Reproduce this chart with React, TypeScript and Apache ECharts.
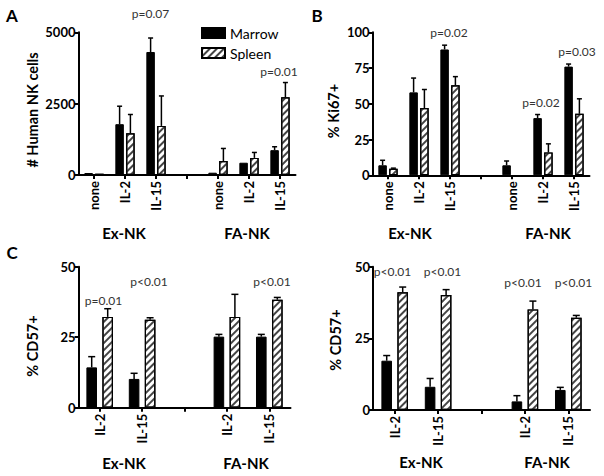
import React, { useEffect, useRef } from 'react';
import * as echarts from 'echarts';

// ---------- data ----------
const catsAB = ['none', 'IL-2', 'IL-15', '', 'none', 'IL-2', 'IL-15'];
const catsCD = ['IL-2', 'IL-15', '', 'IL-2', 'IL-15'];

// Panel A: # Human NK cells
const aMarrow = [70, 1780, 4310, null, 80, 430, 870];
const aMarrowErr = [0, 630, 490, null, 0, 0, 120];
const aSpleen = [45, 1460, 1720, null, 490, 600, 2720];
const aSpleenErr = [0, 660, 1050, null, 440, 190, 520];

// Panel B: % Ki67+
const bMarrow = [7, 58, 88, null, 7, 40, 76];
const bMarrowErr = [3.5, 10, 3, null, 3, 2.5, 1.8];
const bSpleen = [4.5, 47, 63, null, null, 16, 43];
const bSpleenErr = [0.5, 13, 6, null, 0, 6, 10.5];

// Panel C: % CD57+
const cMarrow = [14.3, 10.2, null, 25.2, 25.2];
const cMarrowErr = [3.8, 2, null, 0.8, 0.8];
const cSpleen = [32.2, 31.2, null, 32.2, 38.3];
const cSpleenErr = [2.9, 0.7, null, 8, 0.8];

// Panel D: % CD57+
const dMarrow = [17.2, 8.1, null, 3, 7];
const dMarrowErr = [1.8, 2.9, null, 2, 0.9];
const dSpleen = [41.1, 40.1, null, 35.1, 32.2];
const dSpleenErr = [1.8, 1.9, null, 2.9, 0.8];

const pA = ['p=0.07', 'p=0.01'];
const pB = ['p=0.02', 'p=0.02', 'p=0.03'];
const pC = ['p=0.01', 'p<0.01', 'p<0.01'];
const pD = ['p<0.01', 'p<0.01', 'p<0.01', 'p<0.01'];

const FONT = 'Lato, "Liberation Sans", sans-serif';

const hatch = {
  symbol: 'rect',
  symbolSize: 1,
  dashArrayX: [1, 0],
  dashArrayY: [1.6, 2.2],
  rotation: -Math.PI / 4,
  color: '#444',
};

function errSeries(means: any[], errs: any[], xi: number, offset: number, cap: number) {
  const data = means
    .map((m, i) => (m == null || !errs[i] ? null : [i, m, errs[i]]))
    .filter((d) => d !== null);
  return {
    type: 'custom',
    xAxisIndex: xi,
    yAxisIndex: xi,
    z: 5,
    silent: true,
    encode: { x: 0, y: 1 },
    data,
    renderItem: (_p: any, api: any) => {
      const i = api.value(0);
      const m = api.value(1);
      const e = api.value(2);
      const b = api.coord([i, m]);
      const t = api.coord([i, m + e]);
      const cx = b[0] + offset;
      return {
        type: 'group',
        children: [
          { type: 'line', shape: { x1: cx, y1: b[1], x2: cx, y2: t[1] }, style: { stroke: '#000', lineWidth: 1.5 } },
          { type: 'line', shape: { x1: cx - cap, y1: t[1], x2: cx + cap, y2: t[1] }, style: { stroke: '#000', lineWidth: 1.5 } },
        ],
      };
    },
  };
}

function barPair(marrow: any[], spleen: any[], xi: number, bw: number, gap: string) {
  return [
    {
      type: 'bar',
      name: 'Marrow',
      xAxisIndex: xi,
      yAxisIndex: xi,
      data: marrow,
      barWidth: bw,
      barGap: gap,
      itemStyle: { color: '#000', borderColor: '#000', borderWidth: 1 },
    },
    {
      type: 'bar',
      name: 'Spleen',
      xAxisIndex: xi,
      yAxisIndex: xi,
      data: spleen,
      barWidth: bw,
      barGap: gap,
      itemStyle: { color: '#fff', borderColor: '#000', borderWidth: 1.2, decal: hatch },
    },
  ];
}

function xAxis(gi: number, cats: string[]) {
  return {
    type: 'category',
    gridIndex: gi,
    data: cats,
    axisLine: { show: true, lineStyle: { color: '#000', width: 2 } },
    axisTick: { show: true, alignWithLabel: true, length: 4, lineStyle: { color: '#000', width: 2 } },
    axisLabel: { rotate: 90, interval: 0, margin: 6, color: '#000', fontWeight: 'bold', fontSize: 13, fontFamily: FONT },
    splitLine: { show: false },
  };
}

function yAxis(gi: number, max: number, interval: number) {
  return {
    type: 'value',
    gridIndex: gi,
    min: 0,
    max,
    interval,
    axisLine: { show: true, lineStyle: { color: '#000', width: 2 } },
    axisTick: { show: true, length: 4, lineStyle: { color: '#000', width: 2 } },
    axisLabel: {
      margin: 3,
      color: '#000',
      fontWeight: 'bold',
      fontSize: 13,
      fontFamily: FONT,
      formatter: (v: number) => String(v),
    },
    splitLine: { show: false },
  };
}

function txt(text: string, x: number, y: number, size: number, bold: boolean, rot = 0, color = '#000') {
  return {
    type: 'text',
    x,
    y,
    rotation: rot,
    style: {
      text,
      fill: color,
      font: `${bold ? 'bold ' : ''}${size}px ${FONT}`,
      textAlign: 'center',
      textVerticalAlign: 'middle',
    },
  };
}

export default function App() {
  const ref = useRef<HTMLDivElement>(null);
  useEffect(() => {
    if (!ref.current) return;
    const chart = echarts.init(ref.current, null, { renderer: 'svg' });
    const offAB = 5.4;
    const offCD = 8;
    const P = '#333';
    chart.setOption({
      animation: false,
      backgroundColor: '#fff',
      grid: [
        { left: 78.5, top: 32.3, width: 217, height: 142.7 },
        { left: 372.5, top: 32.3, width: 217, height: 143 },
        { left: 78.5, top: 266.7, width: 212, height: 141 },
        { left: 373, top: 266.7, width: 217, height: 143.3 },
      ],
      xAxis: [xAxis(0, catsAB), xAxis(1, catsAB), xAxis(2, catsCD), xAxis(3, catsCD)],
      yAxis: [yAxis(0, 5000, 2500), yAxis(1, 100, 25), yAxis(2, 50, 25), yAxis(3, 50, 25)],
      legend: {
        data: ['Marrow', 'Spleen'],
        orient: 'vertical',
        left: 196,
        top: 21,
        itemWidth: 23,
        itemHeight: 10,
        itemGap: 6,
        icon: 'rect',
        textStyle: { fontSize: 14, fontFamily: FONT, color: '#000' },
      },
      series: [
        ...barPair(aMarrow, aSpleen, 0, 8.5, '27%'),
        errSeries(aMarrow, aMarrowErr, 0, -offAB, 2.5),
        errSeries(aSpleen, aSpleenErr, 0, offAB, 2.5),
        ...barPair(bMarrow, bSpleen, 1, 8.5, '27%'),
        errSeries(bMarrow, bMarrowErr, 1, -offAB, 2.5),
        errSeries(bSpleen, bSpleenErr, 1, offAB, 2.5),
        ...barPair(cMarrow, cSpleen, 2, 10.6, '51%'),
        errSeries(cMarrow, cMarrowErr, 2, -offCD, 3.5),
        errSeries(cSpleen, cSpleenErr, 2, offCD, 3.5),
        ...barPair(dMarrow, dSpleen, 3, 10.6, '51%'),
        errSeries(dMarrow, dMarrowErr, 3, -offCD, 3.5),
        errSeries(dSpleen, dSpleenErr, 3, offCD, 3.5),
      ],
      graphic: [
        txt('A', 12, 15, 17, true),
        txt('B', 317, 15, 17, true),
        txt('C', 12, 252, 17, true),
        txt('# Human NK cells', 32, 110, 14.5, true, Math.PI / 2),
        txt('% Ki67+', 333, 111, 14.5, true, Math.PI / 2),
        txt('% CD57+', 32, 346, 14.5, true, Math.PI / 2),
        txt('% CD57+', 335, 340, 14.5, true, Math.PI / 2),
        txt('Ex-NK', 124, 233, 15, true),
        txt('FA-NK', 247, 233, 15, true),
        txt('Ex-NK', 410, 233, 15, true),
        txt('FA-NK', 548, 233, 15, true),
        txt('Ex-NK', 124, 463, 15, true),
        txt('FA-NK', 246, 463, 15, true),
        txt('Ex-NK', 421, 462, 15, true),
        txt('FA-NK', 547, 462, 15, true),
        txt(pA[0], 150.5, 13, 12, false, 0, P),
        txt(pA[1], 279, 71, 12, false, 0, P),
        txt(pB[0], 449, 32, 12, false, 0, P),
        txt(pB[1], 541, 102, 12, false, 0, P),
        txt(pB[2], 577, 51, 12, false, 0, P),
        txt(pC[0], 103.5, 300, 12, false, 0, P),
        txt(pC[1], 149, 281, 12, false, 0, P),
        txt(pC[2], 272, 281, 12, false, 0, P),
        txt(pD[0], 392.5, 271, 12, false, 0, P),
        txt(pD[1], 442.5, 271, 12, false, 0, P),
        txt(pD[2], 523, 282, 12, false, 0, P),
        txt(pD[3], 573.5, 282, 12, false, 0, P),
      ],
    });
    return () => chart.dispose();
  }, []);
  return <div ref={ref} style={{ position: 'absolute', left: 0, top: 0, width: 604, height: 476 }} />;
}
